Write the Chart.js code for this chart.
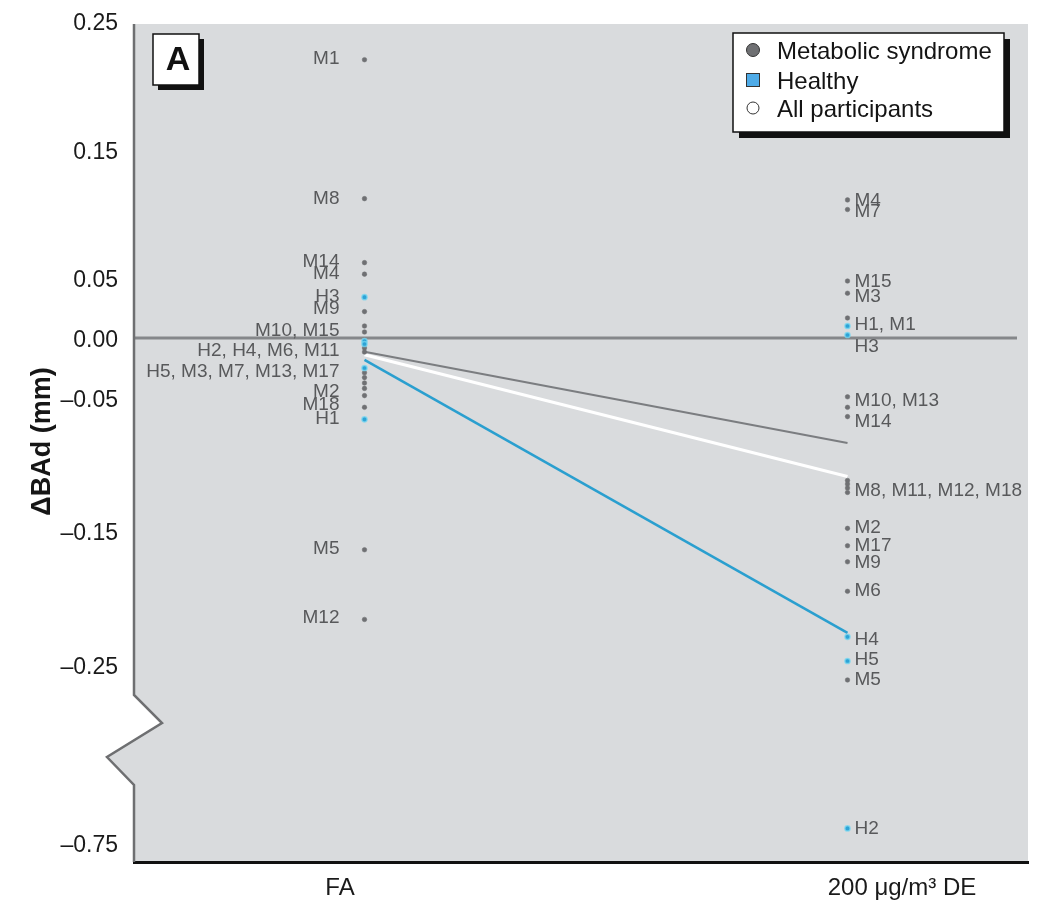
<!DOCTYPE html>
<html>
<head>
<meta charset="utf-8">
<script src="https://cdn.jsdelivr.net/npm/chart.js@4.4.1/dist/chart.umd.min.js"></script>
<style>
  html, body { margin: 0; padding: 0; background: #ffffff; }
  #wrap { width: 1038px; height: 903px; position: relative; }
</style>
</head>
<body>
<div id="wrap"><canvas id="c" width="1038" height="903"></canvas></div>
<script>
// ---------------- data ----------------
const conditions = ['FA', '200 μg/m³ DE'];

const yTickValues = [0.25, 0.15, 0.05, 0, -0.05, -0.15, -0.25, -0.75];
const yTickLabels = ['0.25', '0.15', '0.05', '0.00', '–0.05', '–0.15', '–0.25', '–0.75'];

const metabolicIds = ['M1','M2','M3','M4','M5','M6','M7','M8','M9','M10','M11','M12','M13','M14','M15','M17','M18'];
const metabolicFA  = [0.220,-0.048,-0.029,0.053,-0.164,-0.0083,-0.033,0.112,0.022,0.010,-0.0117,-0.216,-0.0375,0.062,0.005,-0.042,-0.057];
const metabolicDE  = [0.0167,-0.148,0.0373,0.111,-0.292,-0.195,0.1035,-0.112,-0.173,-0.049,-0.1147,-0.1177,-0.057,-0.064,0.0475,-0.161,-0.121];

const healthyIds = ['H1','H2','H3','H4','H5'];
const healthyFA  = [-0.066,-0.0025,0.034,-0.005,-0.025];
const healthyDE  = [0.010,-0.709,0.0025,-0.229,-0.247];

// group means (FA, DE)
const meanMetabolic = [-0.0114, -0.0838];
const meanAll       = [-0.0140, -0.1090];
const meanHealthy   = [-0.0183, -0.2260];

// point labels (text and the value they sit at)
const faLabelText = ['M1','M8','M14','M4','H3','M9','M10, M15','H2, H4, M6, M11','H5, M3, M7, M13, M17','M2','M18','H1','M5','M12'];
const faLabelAt   = [0.2205,0.112,0.0625,0.0531,0.0342,0.0242,0.0058,-0.0108,-0.0283,-0.045,-0.0553,-0.0658,-0.1634,-0.215];
const deLabelText = ['M4','M7','M15','M3','H1, M1','H3','M10, M13','M14','M8, M11, M12, M18','M2','M17','M9','M6','H4','H5','M5','H2'];
const deLabelAt   = [0.110,0.1016,0.0467,0.0342,0.0108,-0.0075,-0.0523,-0.0679,-0.1199,-0.1477,-0.1612,-0.1739,-0.1948,-0.2313,-0.2463,-0.2921,-0.7107];

const legendLabels = ['Metabolic syndrome', 'Healthy', 'All participants'];

// ---------------- broken axis mapping ----------------
const axisKnots = [822, 693, 565, 505, 445, 312, 178, 0]; // display units for yTickValues
function disp(v) {
  const V = yTickValues, D = axisKnots;
  for (let i = 0; i < V.length - 1; i++) {
    if (v <= V[i] && v >= V[i + 1]) {
      return D[i + 1] + (v - V[i + 1]) * (D[i] - D[i + 1]) / (V[i] - V[i + 1]);
    }
  }
  if (v > V[0]) return D[0] + (v - V[0]) * (D[0] - D[1]) / (V[0] - V[1]);
  const n = V.length - 1;
  return D[n] + (v - V[n]) * (D[n - 1] - D[n]) / (V[n - 1] - V[n]);
}

// ---------------- fonts ----------------
function hasFont(name) {
  const c = document.createElement('canvas').getContext('2d');
  c.font = '40px monospace';
  const w0 = c.measureText('0.25 abcMWil').width;
  c.font = '40px "' + name + '", monospace';
  return Math.abs(c.measureText('0.25 abcMWil').width - w0) > 0.5;
}
const hasNarrow = hasFont('Liberation Sans Narrow');
const SANS = '"Liberation Sans", Arial, Helvetica, sans-serif';
const tickFont = hasNarrow ? { family: '"Liberation Sans Narrow", ' + SANS, size: 26 } : { family: SANS, size: 23 };

// ---------------- datasets ----------------
const metabolicPoints = [];
metabolicIds.forEach((id, i) => {
  metabolicPoints.push({ x: 0, y: disp(metabolicFA[i]) });
  metabolicPoints.push({ x: 1, y: disp(metabolicDE[i]) });
});
const healthyPoints = [];
healthyIds.forEach((id, i) => {
  healthyPoints.push({ x: 0, y: disp(healthyFA[i]) });
  healthyPoints.push({ x: 1, y: disp(healthyDE[i]) });
});
const meanLine = m => [{ x: 0, y: disp(m[0]) }, { x: 1, y: disp(m[1]) }];

const COL_MET = '#6f7073';
const COL_HEA = '#2ea3d6';
const COL_LINE_MET = '#7b7d80';
const COL_LINE_HEA = '#2a9fcf';

// ---------------- plugin ----------------
const decor = {
  id: 'decor',
  beforeDraw(chart) {
    const { ctx, chartArea: a } = chart;
    ctx.save();
    ctx.fillStyle = '#ffffff';
    ctx.fillRect(0, 0, chart.width, chart.height);
    ctx.fillStyle = '#d9dbdd';
    ctx.fillRect(a.left, a.top + 3, a.right - a.left, a.bottom - a.top - 3);
    ctx.restore();
  },
  beforeDatasetsDraw(chart) {
    const { ctx, chartArea: a, scales: { y } } = chart;
    ctx.save();
    // zero reference line
    const y0 = y.getPixelForValue(disp(0));
    ctx.strokeStyle = '#85878a';
    ctx.lineWidth = 3;
    ctx.beginPath();
    ctx.moveTo(a.left, y0);
    ctx.lineTo(a.right - 11, y0);
    ctx.stroke();
    // left axis with break
    const yb = y.getPixelForValue(disp(-0.25));
    const x0 = a.left;
    const p1 = yb + 30, p2 = yb + 58, p3 = yb + 92, p4 = yb + 120;
    const xr = x0 + 28, xl = x0 - 27;
    const cross = p2 + (p3 - p2) * (xr - x0) / (xr - xl);
    ctx.fillStyle = '#ffffff';
    ctx.beginPath(); ctx.moveTo(x0, p1); ctx.lineTo(xr, p2); ctx.lineTo(x0, cross); ctx.closePath(); ctx.fill();
    ctx.fillStyle = '#d9dbdd';
    ctx.beginPath(); ctx.moveTo(x0, cross); ctx.lineTo(xl, p3); ctx.lineTo(x0, p4); ctx.closePath(); ctx.fill();
    ctx.strokeStyle = '#6e6f71';
    ctx.lineWidth = 2.5;
    ctx.lineJoin = 'miter';
    ctx.beginPath();
    ctx.moveTo(x0, a.top + 3);
    ctx.lineTo(x0, p1);
    ctx.lineTo(xr, p2);
    ctx.lineTo(xl, p3);
    ctx.lineTo(x0, p4);
    ctx.lineTo(x0, a.bottom);
    ctx.stroke();
    ctx.restore();
  },
  afterDatasetsDraw(chart) {
    const { ctx, chartArea: a, scales: { x, y } } = chart;
    ctx.save();
    // point labels
    ctx.font = '19px ' + SANS;
    ctx.fillStyle = '#58595b';
    ctx.textBaseline = 'middle';
    ctx.textAlign = 'right';
    const xFA = x.getPixelForValue(0) - 25;
    faLabelText.forEach((t, i) => ctx.fillText(t, xFA, y.getPixelForValue(disp(faLabelAt[i]))));
    ctx.textAlign = 'left';
    const xDE = x.getPixelForValue(1) + 7;
    deLabelText.forEach((t, i) => ctx.fillText(t, xDE, y.getPixelForValue(disp(deLabelAt[i]))));

    // panel letter box
    const bx = a.left + 19, by = a.top + 13, bw = 46, bh = 51;
    ctx.fillStyle = '#111';
    ctx.fillRect(bx + 5, by + 5, bw, bh);
    ctx.fillStyle = '#fff';
    ctx.fillRect(bx, by, bw, bh);
    ctx.strokeStyle = '#111';
    ctx.lineWidth = 1.5;
    ctx.strokeRect(bx, by, bw, bh);
    ctx.fillStyle = '#111';
    ctx.font = 'bold 34px ' + SANS;
    ctx.textAlign = 'center';
    ctx.textBaseline = 'middle';
    ctx.fillText('A', bx + bw / 2 + 2, by + bh / 2 + 1);

    // legend
    const lw = 271, lh = 99;
    const lx = a.right - 295, ly = a.top + 12;
    ctx.fillStyle = '#111';
    ctx.fillRect(lx + 6, ly + 6, lw, lh);
    ctx.fillStyle = '#fff';
    ctx.fillRect(lx, ly, lw, lh);
    ctx.strokeStyle = '#111';
    ctx.lineWidth = 1.5;
    ctx.strokeRect(lx, ly, lw, lh);
    const rows = [ly + 17, ly + 47, ly + 75];
    const mx = lx + 20;
    ctx.lineWidth = 1;
    ctx.strokeStyle = '#333';
    ctx.fillStyle = COL_MET;
    ctx.beginPath(); ctx.arc(mx, rows[0], 6.5, 0, Math.PI * 2); ctx.fill(); ctx.stroke();
    ctx.fillStyle = '#4eabe8';
    ctx.fillRect(mx - 6.5, rows[1] - 6.5, 13, 13); ctx.strokeRect(mx - 6.5, rows[1] - 6.5, 13, 13);
    ctx.fillStyle = '#fff';
    ctx.beginPath(); ctx.arc(mx, rows[2], 6, 0, Math.PI * 2); ctx.fill(); ctx.stroke();
    ctx.fillStyle = '#141414';
    ctx.font = '24px ' + SANS;
    ctx.textAlign = 'left';
    ctx.textBaseline = 'middle';
    legendLabels.forEach((t, i) => ctx.fillText(t, lx + 44, rows[i] + 2));
    ctx.restore();
  }
};

// ---------------- chart ----------------
const xTickSpots = [-0.0507, 1.1128];

new Chart(document.getElementById('c'), {
  type: 'scatter',
  data: {
    datasets: [
      { label: 'Healthy', data: healthyPoints, pointRadius: 2.6, pointBackgroundColor: COL_HEA,
        pointBorderColor: 'rgba(120,215,240,0.75)', pointBorderWidth: 1.5 },
      { label: 'Metabolic syndrome', data: metabolicPoints, pointRadius: 2.3, pointBackgroundColor: COL_MET,
        pointBorderColor: COL_MET, pointBorderWidth: 0.5 },
      { label: 'Healthy mean', data: meanLine(meanHealthy), showLine: true, borderColor: COL_LINE_HEA,
        borderWidth: 2.5, pointRadius: 0 },
      { label: 'All participants mean', data: meanLine(meanAll), showLine: true, borderColor: '#ffffff',
        borderWidth: 3, pointRadius: 0 },
      { label: 'Metabolic syndrome mean', data: meanLine(meanMetabolic), showLine: true, borderColor: COL_LINE_MET,
        borderWidth: 2, pointRadius: 0 }
    ]
  },
  options: {
    responsive: false,
    animation: false,
    events: [],
    layout: { padding: { left: 0, right: 10, top: 21, bottom: 0 } },
    plugins: { legend: { display: false }, tooltip: { enabled: false } },
    scales: {
      x: {
        type: 'linear',
        min: -0.4772,
        max: 1.3737,
        grid: { display: false, drawTicks: false },
        border: { display: true, color: '#111111', width: 3 },
        afterBuildTicks(scale) { scale.ticks = xTickSpots.map(v => ({ value: v })); },
        afterFit(scale) { scale.height = 41; scale.paddingLeft = 0; scale.paddingRight = 0; },
        ticks: {
          autoSkip: false,
          maxRotation: 0,
          padding: 12,
          color: '#1a1a1a',
          font: { family: SANS, size: 24 },
          callback: (v, i) => conditions[i]
        }
      },
      y: {
        type: 'linear',
        min: -19,
        max: 822,
        grid: { display: false, drawTicks: false },
        border: { display: false },
        afterBuildTicks(scale) { scale.ticks = yTickValues.map(v => ({ value: disp(v) })); },
        afterFit(scale) { scale.width = 134; scale.paddingTop = 0; scale.paddingBottom = 0; },
        ticks: {
          autoSkip: false,
          padding: 16,
          labelOffset: 3,
          color: '#1a1a1a',
          font: tickFont,
          callback: (v, i) => yTickLabels[i]
        },
        title: {
          display: true,
          text: 'ΔBAd (mm)',
          color: '#161616',
          font: { family: SANS, size: 27, weight: 'bold' },
          padding: { top: 26, bottom: 0 }
        }
      }
    }
  },
  plugins: [decor]
});
</script>
</body>
</html>
